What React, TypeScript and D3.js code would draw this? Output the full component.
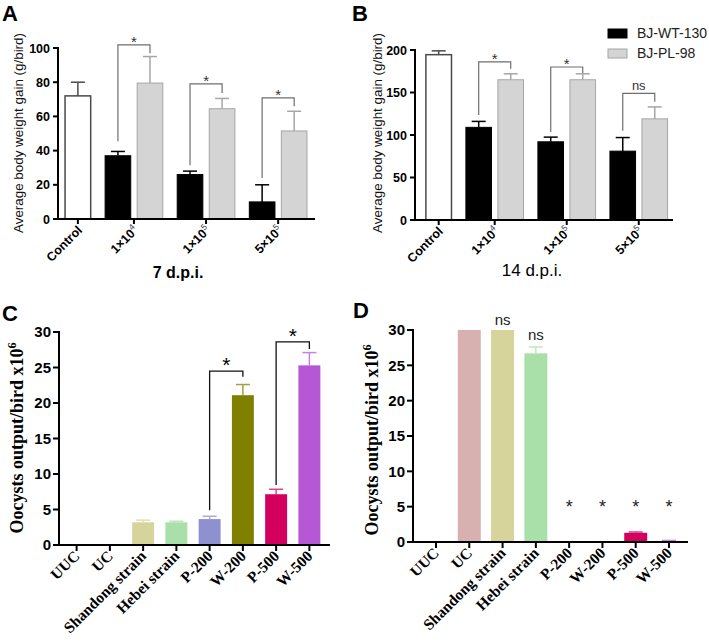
import React from "react";
import * as d3 from "d3";

const W = 709;
const H = 644;
const SANS = "'Liberation Sans', Arial, Helvetica, sans-serif";
const SERIF = "'Liberation Serif', 'Times New Roman', serif";

// ---------- Panels A & B ----------
const doseBase = ["Control", "1×10", "1×10", "5×10"];
const doseExp = ["", "4", "5", "5"];
const seriesNames = ["BJ-WT-130", "BJ-PL-98"];

const ticksA = [0, 20, 40, 60, 80, 100];
const controlA = 72;
const controlErrA = 80;
const wtA = [37, 26, 10];
const wtErrA = [39.5, 28, 20];
const plA = [79.5, 64.5, 51.5];
const plErrA = [95, 70.5, 63];
const sigA = ["*", "*", "*"];
const bracketLeftA = [45.5, 31.5, 24];
const bracketTopA = [101.8, 79, 70.8];
const bracketRightA = [97, 73.7, 66];

const ticksB = [0, 50, 100, 150, 200];
const controlB = 194.5;
const controlErrB = 199;
const wtB = [109, 92, 81];
const wtErrB = [116, 97.5, 97];
const plB = [165, 165, 119];
const plErrB = [172, 172, 133];
const sigB = ["*", "*", "ns"];
const bracketLeftB = [123.5, 103.5, 105];
const bracketTopB = [186, 180, 149];
const bracketRightB = [178, 173, 139];

// ---------- Panels C & D ----------
const strains = ["UUC", "UC", "Shandong strain", "Hebei strain", "P-200", "W-200", "P-500", "W-500"];
const strainColors = ["#999999", "#d8b0b0", "#d6d49a", "#a9dfa9", "#8f90d0", "#808000", "#d4005f", "#b657d6"];
const ticksCD = [0, 5, 10, 15, 20, 25, 30];
const oocystC = [0, 0, 3.2, 3.2, 3.65, 21.1, 7.15, 25.3];
const oocystErrC = [0, 0, 3.5, 3.35, 4.05, 22.6, 7.85, 27.1];
const compareC = [["P-200", "W-200"], ["P-500", "W-500"]];
const sigC = ["*", "*"];
const bracketLeftC = [4.9, 8.45];
const bracketTopC = [24.5, 28.6];
const bracketRightC = [23.7, 27.6];

const oocystD = [0, 30, 30, 26.7, 0, 0, 1.3, 0.15];
const oocystErrD = [0, 0, 0, 27.6, 0, 0, 1.42, 0.22];
const sigD = ["", "", "ns", "ns", "*", "*", "*", "*"];
const sigLevelD = [0, 0, 30.7, 28.6, 4.05, 4.05, 4.05, 4.05];

type ABConf = {
  axisX: number; axisEnd: number; y0: number; yTop: number; yMax: number;
  xDomain: [number, number]; ticks: number[];
  control: number; controlErr: number; wt: number[]; wtErr: number[]; pl: number[]; plErr: number[];
  sig: string[]; bL: number[]; bT: number[]; bR: number[];
  title: string; titleBold: boolean; titleX: number; titleY: number;
  ylabelX: number; ylabelY: number; letter: string; letterX: number; legend: boolean;
};

function ABPanel({ c }: { c: ABConf }) {
  const y = d3.scaleLinear().domain([0, c.yMax]).range([c.y0, c.yTop]);
  const x = d3.scaleLinear().domain(c.xDomain).range([c.axisX, c.axisEnd]);
  const bw = x(0.8) - x(0);
  const gStart = (i: number) => 1.25 + 2.25 * i;
  const bars = [
    { u: 0, v: c.control, e: c.controlErr, k: "control" },
    ...c.wt.map((v, i) => ({ u: gStart(i), v, e: c.wtErr[i], k: "wt" })),
    ...c.pl.map((v, i) => ({ u: gStart(i) + 1, v, e: c.plErr[i], k: "pl" })),
  ];
  const st: Record<string, { fill: string; stroke: string; err: string; sw: number }> = {
    control: { fill: "#ffffff", stroke: "#4a4a4a", err: "#4a4a4a", sw: 1.5 },
    wt: { fill: "#000000", stroke: "#000000", err: "#000000", sw: 1 },
    pl: { fill: "#d4d4d4", stroke: "#a6a6a6", err: "#a6a6a6", sw: 1 },
  };
  const centers = [x(0.4), ...c.wt.map((_, i) => x(gStart(i) + 0.9))];
  return (
    <g fontFamily={SANS} fill="#000">
      <text x={c.letterX} y={21} fontSize={22} fontWeight="bold">{c.letter}</text>
      {bars.map((b, i) => {
        const s = st[b.k];
        const cx = x(b.u) + bw / 2;
        return (
          <g key={i}>
            <line x1={cx} x2={cx} y1={y(b.v)} y2={y(b.e)} stroke={s.err} strokeWidth={1.5} />
            <line x1={cx - 7} x2={cx + 7} y1={y(b.e)} y2={y(b.e)} stroke={s.err} strokeWidth={1.5} />
            <rect x={x(b.u)} y={y(b.v)} width={bw} height={c.y0 - y(b.v)} fill={s.fill} stroke={s.stroke} strokeWidth={s.sw} />
          </g>
        );
      })}
      {c.sig.map((s, i) => {
        const xl = x(gStart(i)) + bw / 2;
        const xr = x(gStart(i) + 1) + bw / 2;
        const yt = y(c.bT[i]);
        return (
          <g key={"s" + i}>
            <path d={`M${xl},${y(c.bL[i])}V${yt}H${xr}V${y(c.bR[i])}`} fill="none" stroke="#6e6e6e" strokeWidth={1.2} />
            <text x={(xl + xr) / 2} y={s === "*" ? yt + 2 : yt - 3} textAnchor="middle" fontSize={s === "*" ? 15 : 13} fill="#333">{s}</text>
          </g>
        );
      })}
      <line x1={c.axisX} x2={c.axisX} y1={c.y0 + 1} y2={y(c.yMax) - 1} stroke="#000" strokeWidth={2} />
      {c.ticks.map((t) => (
        <g key={"t" + t}>
          <line x1={c.axisX - 5} x2={c.axisX} y1={y(t)} y2={y(t)} stroke="#000" strokeWidth={2} />
          <text x={c.axisX - 8} y={y(t)} dy="0.36em" textAnchor="end" fontWeight="bold" fontSize={12.5}>{t}</text>
        </g>
      ))}
      <line x1={c.axisX - 1} x2={c.axisEnd} y1={c.y0} y2={c.y0} stroke="#000" strokeWidth={2} />
      {centers.map((cx, i) => (
        <g key={"x" + i}>
          <line x1={cx} x2={cx} y1={c.y0} y2={c.y0 + 5} stroke="#000" strokeWidth={2} />
          <text transform={`translate(${cx + 5},${c.y0 + 12}) rotate(-45)`} textAnchor="end" fontWeight="bold" fontSize={12.5}>
            {doseBase[i]}
            {doseExp[i] ? <tspan fontSize={8.5} fontWeight="normal" fill="#444" dy={-5}>{doseExp[i]}</tspan> : null}
          </text>
        </g>
      ))}
      <text transform={`translate(${c.ylabelX},${c.ylabelY}) rotate(-90)`} textAnchor="middle" fontSize={13.4} fill="#111">
        Average body weight gain (g/bird)
      </text>
      <text x={c.titleX} y={c.titleY} textAnchor="middle" fontSize={c.titleBold ? 16 : 17} fontWeight={c.titleBold ? "bold" : "normal"}>{c.title}</text>
      {c.legend && (
        <g>
          {seriesNames.map((n, i) => (
            <g key={n}>
              <rect x={608} y={29 + i * 20} width={19} height={9}
                fill={i === 0 ? st.wt.fill : st.pl.fill} stroke={i === 0 ? st.wt.stroke : st.pl.stroke} />
              <text x={637} y={38 + i * 20} fontSize={14} fill="#222">{n}</text>
            </g>
          ))}
        </g>
      )}
    </g>
  );
}

type CDConf = {
  axisX: number; axisEnd: number; bandRange: [number, number]; pi: number; po: number;
  y0: number; yTop: number; vals: number[]; errs: number[];
  letter: string; letterX: number; letterY: number; ylabelX: number; ylabelY: number;
};

function CDPanel({ c, extras }: { c: CDConf; extras: (x: d3.ScaleBand<string>, y: d3.ScaleLinear<number, number>) => React.ReactNode }) {
  const y = d3.scaleLinear().domain([0, 30]).range([c.y0, c.yTop]);
  const x = d3.scaleBand<string>().domain(strains).range(c.bandRange).paddingInner(c.pi).paddingOuter(c.po);
  const bw = x.bandwidth();
  return (
    <g fill="#000">
      <text x={c.letterX} y={c.letterY} fontSize={22} fontWeight="bold" fontFamily={SANS}>{c.letter}</text>
      {c.vals.map((v, i) => {
        const name = strains[i];
        const bx = x(name) as number;
        const cx = bx + bw / 2;
        const col = strainColors[i];
        const errCol = d3.interpolateRgb(col, "#ffffff")(0.25);
        return (
          <g key={name}>
            {c.errs[i] > v && (
              <g>
                <line x1={cx} x2={cx} y1={y(v)} y2={y(c.errs[i])} stroke={errCol} strokeWidth={1.5} />
                <line x1={cx - 7} x2={cx + 7} y1={y(c.errs[i])} y2={y(c.errs[i])} stroke={errCol} strokeWidth={1.5} />
              </g>
            )}
            {v > 0 && <rect x={bx} y={y(v)} width={bw} height={c.y0 - y(v)} fill={col} />}
          </g>
        );
      })}
      <line x1={c.axisX} x2={c.axisX} y1={c.y0 + 1} y2={y(30) - 1} stroke="#000" strokeWidth={2} />
      {ticksCD.map((t) => (
        <g key={"t" + t}>
          <line x1={c.axisX - 6} x2={c.axisX} y1={y(t)} y2={y(t)} stroke="#000" strokeWidth={2} />
          <text x={c.axisX - 8} y={y(t)} dy="0.36em" textAnchor="end" fontWeight="bold" fontSize={15} fontFamily={SANS}>{t}</text>
        </g>
      ))}
      <line x1={c.axisX - 1} x2={c.axisEnd} y1={c.y0} y2={c.y0} stroke="#000" strokeWidth={2} />
      {strains.map((s) => {
        const cx = (x(s) as number) + bw / 2;
        return (
          <g key={"x" + s}>
            <line x1={cx} x2={cx} y1={c.y0} y2={c.y0 + 6} stroke="#000" strokeWidth={2} />
            <text transform={`translate(${cx + 4},${c.y0 + 12}) rotate(-45)`} textAnchor="end" fontWeight="bold" fontSize={15.5} fontFamily={SERIF}>{s}</text>
          </g>
        );
      })}
      <text transform={`translate(${c.ylabelX},${c.ylabelY}) rotate(-90)`} textAnchor="middle" fontSize={18} fontWeight="bold" fontFamily={SERIF}>
        Oocysts output/bird x10<tspan fontSize={12} dy={-7}>6</tspan>
      </text>
      {extras(x, y)}
    </g>
  );
}

export default function App() {
  const confA: ABConf = {
    axisX: 58, axisEnd: 315, y0: 219, yTop: 48, yMax: 100, xDomain: [-0.22, 7.8], ticks: ticksA,
    control: controlA, controlErr: controlErrA, wt: wtA, wtErr: wtErrA, pl: plA, plErr: plErrA,
    sig: sigA, bL: bracketLeftA, bT: bracketTopA, bR: bracketRightA,
    title: "7 d.p.i.", titleBold: true, titleX: 178, titleY: 278,
    ylabelX: 23, ylabelY: 133, letter: "A", letterX: 2, legend: false,
  };
  const confB: ABConf = {
    axisX: 415, axisEnd: 673, y0: 220, yTop: 50, yMax: 200, xDomain: [-0.34, 7.72], ticks: ticksB,
    control: controlB, controlErr: controlErrB, wt: wtB, wtErr: wtErrB, pl: plB, plErr: plErrB,
    sig: sigB, bL: bracketLeftB, bT: bracketTopB, bR: bracketRightB,
    title: "14 d.p.i.", titleBold: false, titleX: 532, titleY: 276,
    ylabelX: 382, ylabelY: 133, letter: "B", letterX: 352, legend: true,
  };
  const confC: CDConf = {
    axisX: 59, axisEnd: 330, bandRange: [59, 327], pi: 0.34, po: 0.2, y0: 545, yTop: 332,
    vals: oocystC, errs: oocystErrC, letter: "C", letterX: 2, letterY: 321, ylabelX: 23, ylabelY: 438,
  };
  const confD: CDConf = {
    axisX: 413, axisEnd: 688, bandRange: [413, 692], pi: 0.31, po: 0.346, y0: 542, yTop: 330,
    vals: oocystD, errs: oocystErrD, letter: "D", letterX: 353, letterY: 318, ylabelX: 378, ylabelY: 440,
  };
  return (
    <svg width={W} height={H} viewBox={`0 0 ${W} ${H}`} style={{ position: "absolute", left: 0, top: 0, background: "#fff" }}>
      <rect width={W} height={H} fill="#fff" />
      <ABPanel c={confA} />
      <ABPanel c={confB} />
      <CDPanel
        c={confC}
        extras={(x, y) =>
          compareC.map((pair, i) => {
            const bw = x.bandwidth();
            const xl = (x(pair[0]) as number) + bw / 2;
            const xr = (x(pair[1]) as number) + bw / 2;
            const yt = y(bracketTopC[i]);
            return (
              <g key={"c" + i}>
                <path d={`M${xl},${y(bracketLeftC[i])}V${yt}H${xr}V${y(bracketRightC[i])}`} fill="none" stroke="#111" strokeWidth={1.3} />
                <text x={(xl + xr) / 2} y={yt + 1} textAnchor="middle" fontSize={21} fontFamily={SANS}>{sigC[i]}</text>
              </g>
            );
          })
        }
      />
      <CDPanel
        c={confD}
        extras={(x, y) =>
          sigD.map((s, i) =>
            s ? (
              <text key={"d" + i} x={(x(strains[i]) as number) + x.bandwidth() / 2} y={y(sigLevelD[i])}
                textAnchor="middle" fontSize={s === "*" ? 18 : 15} fontFamily={SANS} fill="#222">{s}</text>
            ) : null
          )
        }
      />
    </svg>
  );
}
